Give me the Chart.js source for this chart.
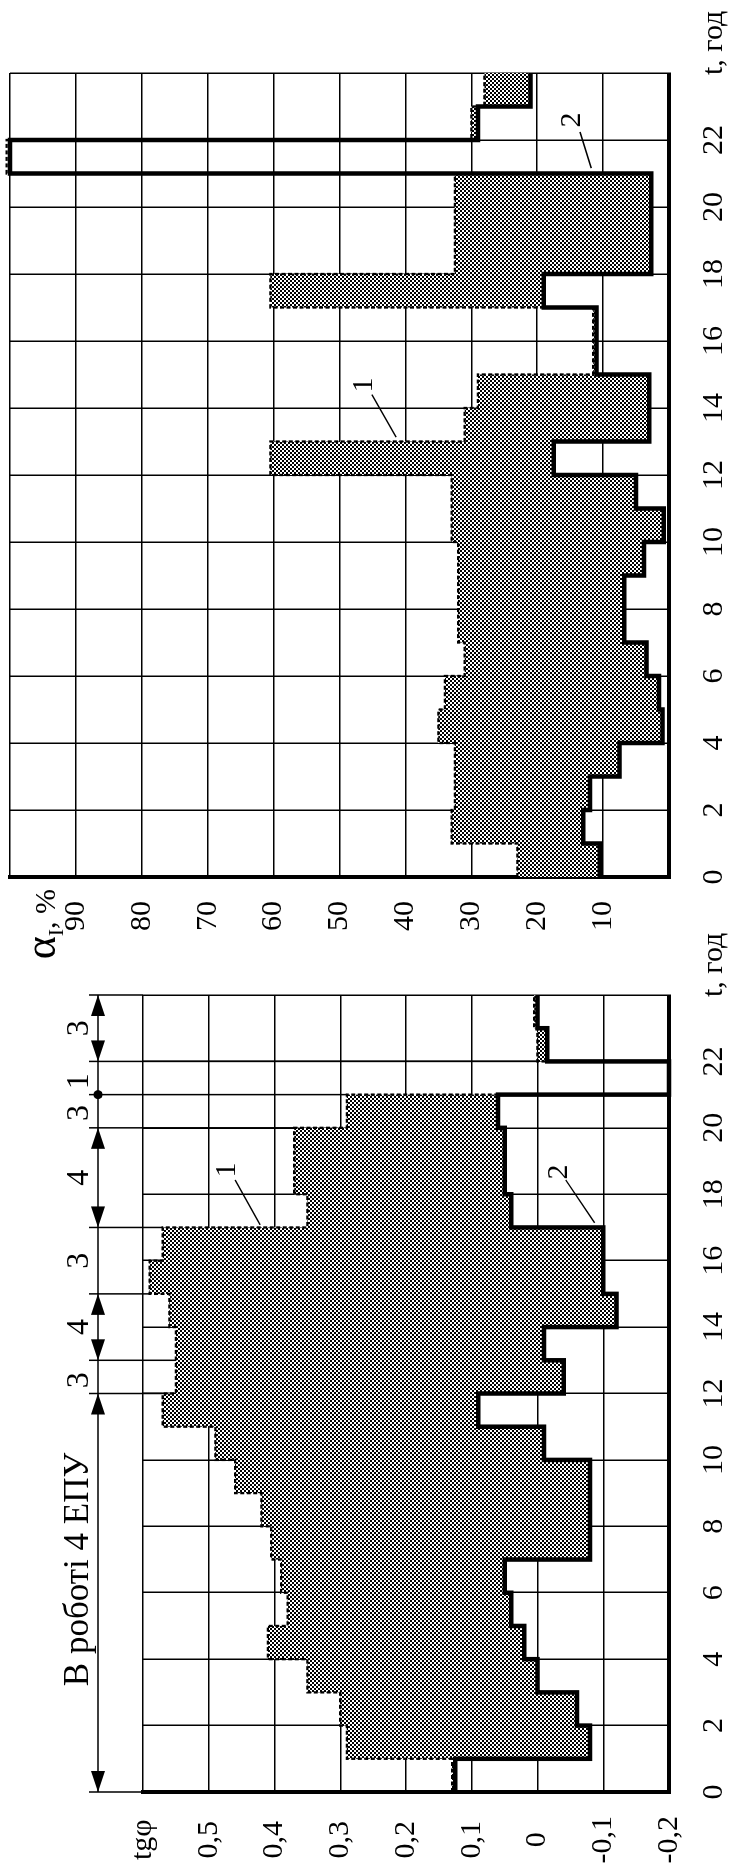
<!DOCTYPE html>
<html lang="uk">
<head>
<meta charset="utf-8">
<title>tgφ та αI</title>
<script src="https://cdn.jsdelivr.net/npm/chart.js@4.4.1/dist/chart.umd.min.js"></script>
<style>
  html, body { margin: 0; padding: 0; background: #fff; overflow: hidden; }
  body { width: 734px; height: 1876px; position: relative; }
  /* the figure is drawn lying down and then turned a quarter turn left */
  #sheet { position: absolute; left: 0; top: 0; width: 1876px; height: 734px;
           transform-origin: 0 0; transform: translateY(1876px) rotate(-90deg); }
  #sheet canvas { position: absolute; left: 0; top: 0; }
</style>
</head>
<body>
<div id="sheet">
  <canvas id="tgChart" width="1876" height="734"></canvas>
  <canvas id="alphaChart" width="1876" height="734"></canvas>
</div>
<script>
// start hour of every step
const hours = [0, 1, 2, 3, 4, 5, 6, 7, 8, 9, 10, 11, 12, 13, 14, 15, 16, 17, 18, 19, 20, 21, 22, 23];

// tgφ, curve 1 (dashed) and curve 2 (solid)
const tgCurve1 = [0.13, 0.29, 0.30, 0.35, 0.41, 0.38, 0.39, 0.405, 0.42, 0.46, 0.49, 0.57,
                  0.55, 0.55, 0.56, 0.59, 0.57, 0.35, 0.37, 0.37, 0.29, -0.2, 0.0, 0.005];
const tgCurve2 = [0.125, -0.08, -0.06, 0.0, 0.02, 0.04, 0.05, -0.08, -0.08, -0.08, -0.01, 0.09,
                  -0.04, -0.01, -0.12, -0.1, -0.1, 0.04, 0.05, 0.05, 0.06, -0.2, -0.015, 0.0];

// αI, %, curve 1 (dashed) and curve 2 (solid)
const alphaCurve1 = [23, 33, 32.5, 32.5, 35, 34, 31, 32, 32, 32, 33, 33,
                     60.5, 31, 29, 11.5, 11.5, 60.5, 32.5, 32.5, 32.5, 100.5, 30, 28];
const alphaCurve2 = [10.5, 13, 12, 7.5, 1, 1.5, 3.4, 6.8, 6.8, 3.8, 0.8, 5,
                     17.5, 3, 3, 11, 11, 19, 2.7, 2.7, 2.7, 100, 29, 21];

// number of units in operation
const unitBounds = [0, 12, 13, 15, 17, 20, 21, 22, 24];
const unitLabels = ['В роботі 4 ЕПУ', '3', '4', '3', '4', '3', '1', '3'];
const unitArrows = [true, false, true, false, true, false, false, true];

const SERIF = 'Liberation Serif';
Chart.defaults.font.family = SERIF;
Chart.defaults.color = '#000';

// chequered fill
function checker() {
    const c = document.createElement('canvas');
    c.width = 4; c.height = 4;
    const g = c.getContext('2d');
    g.fillStyle = '#fff'; g.fillRect(0, 0, 4, 4);
    g.fillStyle = '#000'; g.fillRect(0, 0, 2, 2); g.fillRect(2, 2, 2, 2);
    return g.createPattern(c, 'repeat');
}
const pattern = checker();

function steps(values) {
    const pts = hours.map((h, i) => ({ x: h, y: values[i] }));
    pts.push({ x: 24, y: values[values.length - 1] });
    return pts;
}

function fmtTg(v) {
    const r = Math.round(v * 10) / 10;
    if (r === 0.6) return 'tgφ';
    if (r === 0) return '0';
    return r.toFixed(1).replace('.', ',');
}

// curve numbers with leader lines: [text, t, value, t from, value from, t to, value to]
function drawTags(chart, tags) {
    const { ctx, scales: { x, y } } = chart;
    ctx.save();
    ctx.fillStyle = '#000'; ctx.strokeStyle = '#000'; ctx.lineWidth = 1.4;
    ctx.font = '30px ' + SERIF;
    ctx.textAlign = 'center'; ctx.textBaseline = 'alphabetic';
    tags.forEach(([txt, t, v, t1, v1, t2, v2]) => {
        ctx.fillText(txt, x.getPixelForValue(t), y.getPixelForValue(v));
        ctx.beginPath();
        ctx.moveTo(x.getPixelForValue(t1), y.getPixelForValue(v1));
        ctx.lineTo(x.getPixelForValue(t2), y.getPixelForValue(v2));
        ctx.stroke();
    });
    ctx.restore();
}

function axisName(chart) {
    const { ctx, scales: { x } } = chart;
    ctx.save();
    ctx.font = '30px ' + SERIF;
    ctx.textAlign = 'left'; ctx.textBaseline = 'middle';
    ctx.fillText('t, год', x.getPixelForValue(24) - 2, x.top + 45);
    ctx.restore();
}

const tgExtras = {
    id: 'tgExtras',
    afterDraw(chart) {
        const { ctx, chartArea, scales: { x, y } } = chart;
        const lineV = chartArea.top - 45, tickV = chartArea.top - 54;
        ctx.save();
        ctx.strokeStyle = '#000'; ctx.fillStyle = '#000'; ctx.lineWidth = 1.5;
        ctx.beginPath();
        ctx.moveTo(x.getPixelForValue(0), lineV);
        ctx.lineTo(x.getPixelForValue(24), lineV);
        unitBounds.forEach(b => {
            const u = x.getPixelForValue(b);
            let end = chartArea.top;
            if (b > 0 && b < 24) end = y.getPixelForValue(Math.max(tgCurve1[b - 1], tgCurve1[b]));
            ctx.moveTo(u, tickV); ctx.lineTo(u, end);
        });
        ctx.stroke();

        const arrow = (tip, dir) => {
            ctx.beginPath();
            ctx.moveTo(tip, lineV);
            ctx.lineTo(tip - dir * 21, lineV - 7);
            ctx.lineTo(tip - dir * 21, lineV + 7);
            ctx.closePath(); ctx.fill();
        };
        const labelAt = [6.7, 12.4, 14, 16, 18.5, 20.45, 21.4, 23];
        unitLabels.forEach((txt, i) => {
            if (unitArrows[i]) {
                arrow(x.getPixelForValue(unitBounds[i]), -1);
                arrow(x.getPixelForValue(unitBounds[i + 1]), 1);
            }
            ctx.font = (i === 0 ? '35px ' : '32px ') + SERIF;
            ctx.textAlign = 'center'; ctx.textBaseline = 'alphabetic';
            ctx.fillText(txt, x.getPixelForValue(labelAt[i]), lineV - 10);
        });
        ctx.beginPath();
        ctx.arc(x.getPixelForValue(21), lineV, 4.5, 0, Math.PI * 2);
        ctx.fill();
        ctx.restore();

        drawTags(chart, [
            ['1', 18.73, 0.46, 18.43, 0.46, 17.08, 0.422],
            ['2', 18.67, -0.045, 18.43, -0.043, 17.14, -0.087]
        ]);
        axisName(chart);
    }
};

const alphaExtras = {
    id: 'alphaExtras',
    afterDraw(chart) {
        const { ctx, scales: { y } } = chart;
        drawTags(chart, [
            ['1', 14.69, 45.1, 14.4, 45.1, 13.13, 41.4],
            ['2', 22.6, 13.5, 22.24, 13.5, 21.16, 11.8]
        ]);
        axisName(chart);

        // αI, %
        ctx.save();
        ctx.textBaseline = 'alphabetic'; ctx.textAlign = 'left';
        const base = y.getPixelForValue(95) + 12;
        const parts = [['α', '44px ', 0], ['I', '22px ', 8], [', %', '30px ', 0]];
        let w = 0;
        parts.forEach(p => { ctx.font = p[1] + SERIF; w += ctx.measureText(p[0]).width; });
        let u = y.right - 12 - w;
        parts.forEach(p => {
            ctx.font = p[1] + SERIF;
            ctx.fillText(p[0], u, base + p[2]);
            u += ctx.measureText(p[0]).width;
        });
        ctx.restore();
    }
};

function makeChart(id, c1, c2, yOpts, padding, yWidth, extras) {
    return new Chart(document.getElementById(id), {
        type: 'line',
        data: {
            datasets: [
                { data: steps(c1), stepped: true, borderColor: '#000', borderWidth: 2.3,
                  borderDash: [4, 2.5], borderJoinStyle: 'miter', fill: '+1',
                  backgroundColor: pattern, pointRadius: 0, order: 1, clip: false },
                { data: steps(c2), stepped: true, borderColor: '#000', borderWidth: 4.5,
                  borderJoinStyle: 'miter', fill: false, pointRadius: 0, order: 0, clip: false }
            ]
        },
        options: {
            responsive: false, animation: false, devicePixelRatio: 1,
            layout: { padding },
            plugins: { legend: { display: false }, tooltip: { enabled: false } },
            scales: {
                x: {
                    type: 'linear', min: 0, max: 24,
                    afterFit: s => { s.height = 65; s.paddingLeft = s.paddingRight = 0; },
                    ticks: { stepSize: 2, autoSkip: false, maxRotation: 0, minRotation: 0,
                             padding: 27, font: { size: 30 },
                             callback: v => v === 24 ? '' : String(v) },
                    grid: { color: '#000', lineWidth: 1.5, drawTicks: false },
                    border: { display: true, color: '#000', width: 4 }
                },
                y: Object.assign({
                    afterFit: s => { s.width = yWidth; s.paddingTop = s.paddingBottom = 0; },
                    grid: { color: '#000', lineWidth: 1.5, drawTicks: false },
                    border: { display: true, color: '#000', width: 4 }
                }, yOpts)
            }
        },
        plugins: [extras]
    });
}

makeChart('tgChart', tgCurve1, tgCurve2, {
    min: -0.2, max: 0.6,
    ticks: { stepSize: 0.1, crossAlign: 'center', padding: 24, font: { size: 30 }, callback: fmtTg }
}, { left: 0, right: 995, top: 143, bottom: 0 }, 84, tgExtras);

makeChart('alphaChart', alphaCurve1, alphaCurve2, {
    min: 0, max: 100,
    ticks: { stepSize: 10, crossAlign: 'center', padding: 24, font: { size: 30 },
             callback: v => (v === 0 || v === 100) ? '' : String(v) }
}, { left: 930, right: 73, top: 10, bottom: 0 }, 69, alphaExtras);
</script>
</body>
</html>
